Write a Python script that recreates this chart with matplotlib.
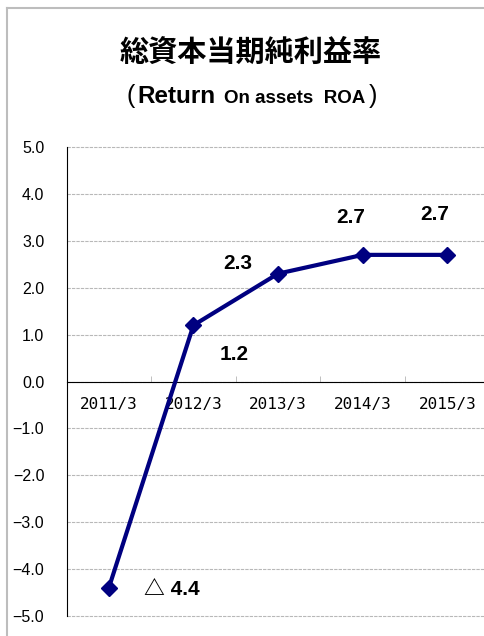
import matplotlib.pyplot as plt
from matplotlib.lines import Line2D

plt.rcParams['font.family'] = ['Liberation Sans', 'Noto Sans CJK JP', 'DejaVu Sans']

# Data
periods = ['2011/3', '2012/3', '2013/3', '2014/3', '2015/3']
roa = [-4.4, 1.2, 2.3, 2.7, 2.7]
# label offsets in points (dx, dy) from each marker
label_offsets = [(45, -1), (29, -21), (-29, 7), (-9, 27), (-9, 29)]
yticks = [5.0, 4.0, 3.0, 2.0, 1.0, 0.0, -1.0, -2.0, -3.0, -4.0, -5.0]

fig = plt.figure(figsize=(4.85, 6.36), dpi=100)
W, H = 485, 636
ax = fig.add_axes([66.5 / W, 1 - 616 / H, (489.7 - 66.5) / W, (616 - 147) / H])

x = list(range(len(periods)))
ax.plot(x, roa, color='#000080', lw=3, marker='D', ms=8.5, zorder=5, clip_on=False)

for xi, v, (dx, dy) in zip(x, roa, label_offsets):
    txt = f'△ {abs(v):.1f}' if v < 0 else f'{v:.1f}'
    ax.annotate(txt, (xi, v), xytext=(dx, dy), textcoords='offset points',
                ha='center', va='center', fontsize=15, fontweight='bold')

ax.set_xlim(-0.5, len(periods) - 0.5)
ax.set_ylim(-5, 5)
ax.set_yticks(yticks)
ax.set_yticklabels([f'{t:.1f}'.replace('-', '−') for t in yticks], fontsize=11.5)
ax.tick_params(axis='y', length=0, pad=16)
ax.yaxis.grid(True, color='#b8b8b8', lw=0.8, ls=(0, (3, 1)))
for gl in ax.get_ygridlines():
    gl.set_clip_on(False)
ax.set_axisbelow(True)

ax.set_xticks(x)
ax.set_xticklabels(periods)
ax.set_xticks([i + 0.5 for i in x[:-1]], minor=True)
ax.tick_params(axis='x', which='major', length=0, pad=11, labelsize=11.5,
               labelfontfamily='DejaVu Sans Mono')
ax.tick_params(axis='x', which='minor', direction='in', length=4, color='#b4b4b4')

ax.spines['bottom'].set_position(('data', 0))
ax.spines['bottom'].set_color('black')
ax.spines['left'].set_color('black')
ax.spines['top'].set_visible(False)
ax.spines['right'].set_visible(False)

# frame lines of the chart area
fig.add_artist(Line2D([7 / W, 7 / W], [0, 1 - 8 / H], color='#bdbdbd', lw=1.5))
fig.add_artist(Line2D([7 / W, 1], [1 - 8 / H, 1 - 8 / H], color='#bdbdbd', lw=1.5))

fig.text(251 / W, 1 - 52 / H, '総資本当期純利益率', ha='center', va='center',
         fontsize=21, fontweight='bold', family=['Noto Sans CJK JP', 'DejaVu Sans'])
base = 1 - 103 / H
fig.text(126 / W, base, '(', ha='left', va='baseline', fontsize=18)
fig.text(137 / W, base, 'Return', ha='left', va='baseline', fontsize=17.5, fontweight='bold')
fig.text(224 / W, base, 'On assets  ROA', ha='left', va='baseline', fontsize=13.5,
         fontweight='bold')
fig.text(369 / W, base, ')', ha='left', va='baseline', fontsize=18)

fig.savefig('out.png', dpi=100)
